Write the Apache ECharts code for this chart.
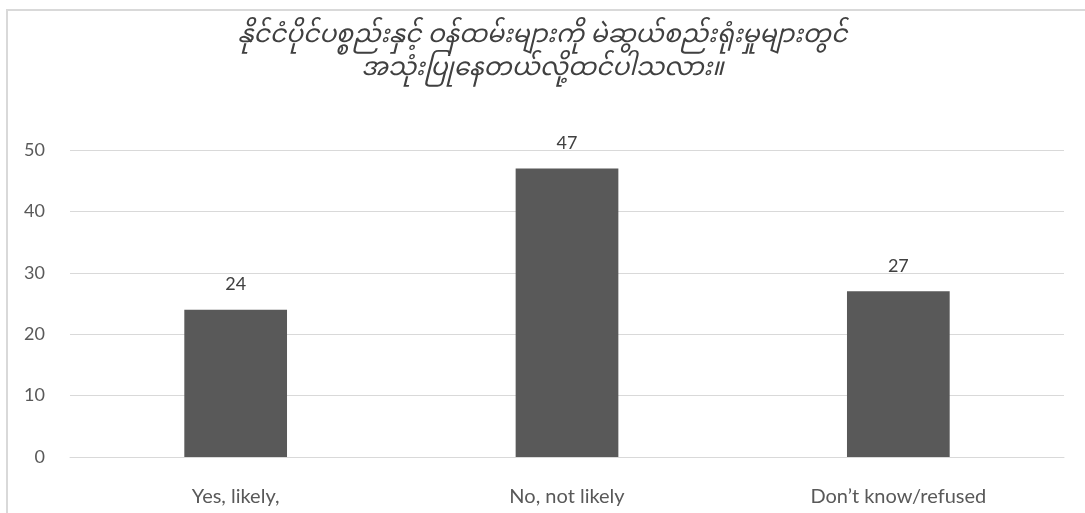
<!DOCTYPE html>
<html>
<head>
<meta charset="utf-8">
<script src="https://cdn.jsdelivr.net/npm/echarts@6/dist/echarts.min.js"></script>
<style>
html,body{margin:0;padding:0;background:#fff;}
#frame{position:absolute;left:6px;top:9px;width:1079px;height:504px;border-left:2px solid #d9d9d9;border-top:2px solid #d9d9d9;}
#c{position:absolute;left:0;top:0;width:1085px;height:513px;}
</style>
</head>
<body>
<div id="frame"></div>
<div id="c"></div>
<script>
const titleLines = ['နိုင်ငံပိုင်ပစ္စည်းနှင့် ဝန်ထမ်းများကို မဲဆွယ်စည်းရုံးမှုများတွင်', 'အသုံးပြုနေတယ်လို့ထင်ပါသလား။'];
const categories = ['Yes, likely,', 'No, not likely', 'Don’t know/refused'];
const values = [24, 47, 27];
const yTicks = {min: 0, max: 50, interval: 10};

const chart = echarts.init(document.getElementById('c'));
chart.setOption({
  animation: false,
  title: {
    text: titleLines.join('\n'),
    left: 'center',
    top: 18,
    textStyle: {
      fontFamily: '"Noto Sans Myanmar", "Noto Sans", sans-serif',
      fontStyle: 'italic',
      fontWeight: 'normal',
      fontSize: 25,
      lineHeight: 33,
      color: '#404040'
    }
  },
  grid: {left: 70, right: 21, top: 150, bottom: 56},
  xAxis: {
    type: 'category',
    data: categories,
    axisLine: {show: true, lineStyle: {color: '#d9d9d9', width: 1}},
    axisTick: {show: false},
    axisLabel: {color: '#595959', fontSize: 20, margin: 30, fontFamily: 'Lato, "Open Sans", sans-serif'}
  },
  yAxis: {
    type: 'value',
    min: yTicks.min, max: yTicks.max, interval: yTicks.interval,
    axisLine: {show: false},
    axisTick: {show: false},
    splitLine: {lineStyle: {color: '#d9d9d9', width: 1}},
    axisLabel: {color: '#595959', fontSize: 18, margin: 25, fontFamily: 'Lato, sans-serif'}
  },
  series: [{
    type: 'bar',
    data: values,
    barWidth: '31%',
    itemStyle: {color: '#595959'},
    label: {show: true, position: 'top', distance: 16, color: '#404040', fontSize: 18, fontFamily: 'Lato, sans-serif'}
  }]
});
</script>
</body>
</html>
